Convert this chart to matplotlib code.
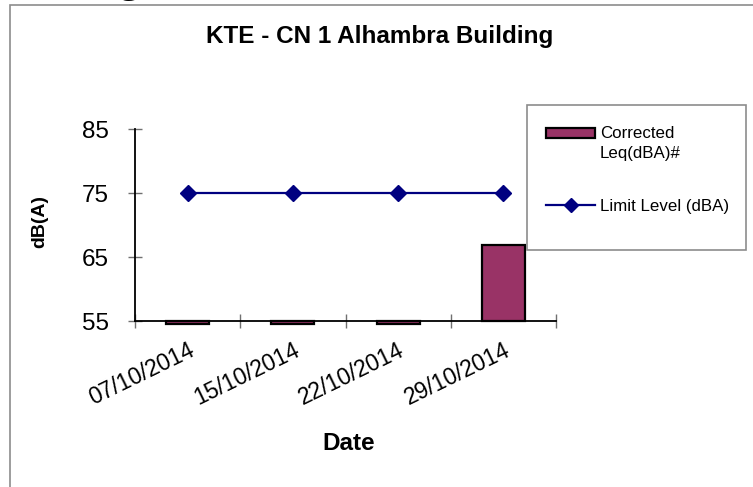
import matplotlib
matplotlib.use('Agg')
import matplotlib.pyplot as plt
from matplotlib.patches import Rectangle
from matplotlib.lines import Line2D

plt.rcParams['font.family'] = ['Liberation Sans', 'DejaVu Sans']

dates = ['07/10/2014', '15/10/2014', '22/10/2014', '29/10/2014']
corrected_leq = [54.6, 54.6, 54.6, 66.9]
limit_level = [75, 75, 75, 75]
y_ticks = [55, 65, 75, 85]

bar_color = '#993366'
line_color = '#000080'
W, H = 753, 487


def fx(px):
    return px / W


def fy(py):
    return 1 - py / H


fig = plt.figure(figsize=(W / 100, H / 100), dpi=100)

# outer chart border (only top and left visible in the crop)
fig.patches.append(Rectangle((fx(10), -0.2), 1.2, 1.2 - 5 / H, transform=fig.transFigure,
                             fill=False, edgecolor='#8c8c8c', lw=1.2))
# bit of page heading cut off above the chart
fig.text(fx(129), 1 + 8 / H, 'g', fontsize=30, family='Liberation Serif',
         ha='center', va='baseline')

ax = fig.add_axes([fx(135), fy(321), (556 - 135) / W, (321 - 129.5) / H])
x = list(range(len(dates)))

ax.bar(x, [v - 55 for v in corrected_leq], bottom=55, width=0.41, color=bar_color,
       edgecolor='black', linewidth=1.6, clip_on=False, zorder=2)
ax.plot(x, limit_level, color=line_color, lw=1.6, marker='D', markersize=8, zorder=3)

ax.set_xlim(-0.5, len(dates) - 0.5)
ax.set_ylim(55, 85)
ax.set_yticks(y_ticks)
ax.set_xticks(x)
ax.set_xticklabels(dates)
ax.set_xticks([i - 0.5 for i in range(len(dates) + 1)], minor=True)

for s in ['top', 'right']:
    ax.spines[s].set_visible(False)
for s in ['left', 'bottom']:
    ax.spines[s].set_linewidth(1.3)
    ax.spines[s].set_zorder(4)

ax.tick_params(axis='y', direction='inout', length=10, width=1, color='#707070',
               labelsize=17.5, pad=14)
ax.tick_params(axis='x', which='major', length=0, labelsize=16.5, pad=13)
ax.tick_params(axis='x', which='minor', direction='inout', length=10, width=1, color='#707070')
plt.setp(ax.get_xticklabels(), rotation=26, ha='right', rotation_mode='anchor')

fig.text(fx(380), fy(42.7), 'KTE - CN 1 Alhambra Building', fontsize=17.5,
         fontweight='bold', ha='center', va='baseline')
fig.text(fx(40), fy(221), 'dB(A)', fontsize=14, fontweight='bold', rotation=90,
         ha='center', va='center')
fig.text(fx(349), fy(450), 'Date', fontsize=17.5, fontweight='bold',
         ha='center', va='baseline')

# legend, drawn by hand to follow the Excel layout
fig.patches.append(Rectangle((fx(527), fy(250)), (746 - 527) / W, (250 - 105) / H,
                             transform=fig.transFigure, fill=False,
                             edgecolor='#8c8c8c', lw=1.2))
fig.patches.append(Rectangle((fx(546), fy(137.5)), 49 / W, 10 / H,
                             transform=fig.transFigure, facecolor=bar_color,
                             edgecolor='black', lw=1.6))
fig.lines.append(Line2D([fx(546), fx(595)], [fy(205), fy(205)], transform=fig.transFigure,
                        color=line_color, lw=1.6))
fig.lines.append(Line2D([fx(570.5)], [fy(205)], transform=fig.transFigure,
                        color=line_color, marker='D', markersize=7))
fig.text(fx(600), fy(138.5), 'Corrected', fontsize=12.2, va='baseline')
fig.text(fx(600), fy(158), 'Leq(dBA)#', fontsize=12.2, va='baseline')
fig.text(fx(600), fy(211.5), 'Limit Level (dBA)', fontsize=12.2, va='baseline')

fig.savefig('out.png', dpi=100)
